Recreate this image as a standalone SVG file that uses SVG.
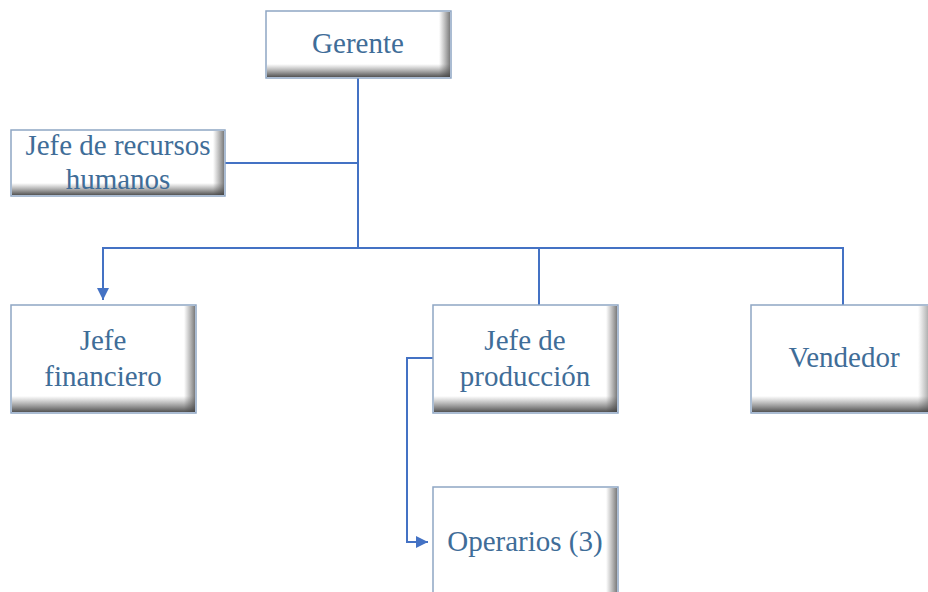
<svg xmlns="http://www.w3.org/2000/svg" width="928" height="592" viewBox="0 0 928 592">
<defs>
<linearGradient id="gr" x1="0" y1="0" x2="1" y2="0">
<stop offset="0" stop-color="#606060" stop-opacity="0"/>
<stop offset="1" stop-color="#505050" stop-opacity="0.75"/>
</linearGradient>
<linearGradient id="gb" x1="0" y1="0" x2="0" y2="1">
<stop offset="0" stop-color="#606060" stop-opacity="0"/>
<stop offset="1" stop-color="#404040" stop-opacity="0.9"/>
</linearGradient>
<marker id="arr" viewBox="0 0 10 10" refX="10" refY="5" markerWidth="6" markerHeight="6" orient="auto" markerUnits="strokeWidth">
<path d="M0,0 L10,5 L0,10 z" fill="#4472C4"/>
</marker>
</defs>
<style>
.box{fill:#ffffff;stroke:#8fa6c4;stroke-width:1.5}
.c{fill:none;stroke:#4472C4;stroke-width:2}
</style>
<rect width="928" height="592" fill="#ffffff"/>
<g id="connectors">
<path class="c" d="M358,78 V248"/>
<path class="c" d="M225,163 H358"/>
<path class="c" d="M843,305 V248 H103 V300" marker-end="url(#arr)"/>
<path class="c" d="M539,248 V305"/>
<path class="c" d="M433,358 H407 V542 H428" marker-end="url(#arr)"/>
</g>
<g id="gerente">
<rect class="box" x="266" y="11" width="185" height="67"/>
<rect x="439" y="12" width="11" height="65" fill="url(#gr)"/>
<rect x="267" y="64" width="183" height="13" fill="url(#gb)"/>
<text x="358" y="53" font-family="Liberation Serif" font-size="29" fill="#3f6d98" text-anchor="middle">Gerente</text>
</g>
<g id="rrhh">
<rect class="box" x="11" y="130" width="214" height="66"/>
<rect x="213" y="131" width="11" height="64" fill="url(#gr)"/>
<rect x="12" y="183" width="212" height="12" fill="url(#gb)"/>
<text x="118" y="155" font-family="Liberation Serif" font-size="29" fill="#3f6d98" text-anchor="middle">Jefe de recursos</text>
<text x="118" y="189" font-family="Liberation Serif" font-size="29" fill="#3f6d98" text-anchor="middle">humanos</text>
</g>
<g id="financiero">
<rect class="box" x="11" y="305" width="185" height="108"/>
<rect x="184" y="306" width="11" height="106" fill="url(#gr)"/>
<rect x="12" y="396" width="183" height="16" fill="url(#gb)"/>
<text x="103" y="350" font-family="Liberation Serif" font-size="29" fill="#3f6d98" text-anchor="middle">Jefe</text>
<text x="103" y="386" font-family="Liberation Serif" font-size="29" fill="#3f6d98" text-anchor="middle">financiero</text>
</g>
<g id="produccion">
<rect class="box" x="433" y="305" width="185" height="108"/>
<rect x="606" y="306" width="11" height="106" fill="url(#gr)"/>
<rect x="434" y="396" width="183" height="16" fill="url(#gb)"/>
<text x="525" y="350" font-family="Liberation Serif" font-size="29" fill="#3f6d98" text-anchor="middle">Jefe de</text>
<text x="525" y="386" font-family="Liberation Serif" font-size="29" fill="#3f6d98" text-anchor="middle">producción</text>
</g>
<g id="vendedor">
<rect class="box" x="751" y="305" width="185" height="108"/>
<rect x="918" y="306" width="10" height="106" fill="url(#gr)" opacity="0.6"/>
<rect x="752" y="396" width="183" height="16" fill="url(#gb)"/>
<text x="844" y="367" font-family="Liberation Serif" font-size="29" fill="#3f6d98" text-anchor="middle">Vendedor</text>
</g>
<g id="operarios">
<rect class="box" x="433" y="487" width="185" height="108"/>
<rect x="606" y="488" width="11" height="106" fill="url(#gr)"/>
<text x="525" y="551" font-family="Liberation Serif" font-size="29" fill="#3f6d98" text-anchor="middle">Operarios (3)</text>
</g>
</svg>
